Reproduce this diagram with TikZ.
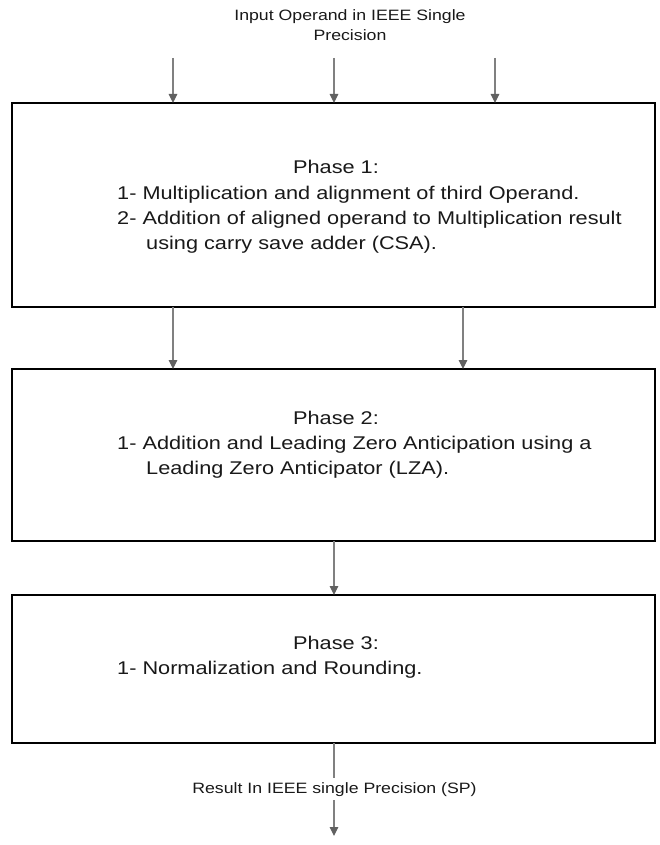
\documentclass[tikz,border=0pt]{standalone}
\usepackage{fontspec}
\usetikzlibrary{arrows.meta}
\newfontfamily\diagfont[FakeStretch=1.18]{Liberation Sans}
\newcommand{\bigtxt}{\diagfont\fontsize{18.4}{25}\selectfont}
\newcommand{\smalltxt}{\diagfont\fontsize{15}{20}\selectfont}
\begin{document}
\begin{tikzpicture}[x=1pt,y=-1pt,
  phasebox/.style={draw=black, line width=1.1pt, inner sep=0pt, outer sep=0pt, minimum width=643pt},
  bt/.style={font=\bigtxt, inner sep=0pt, text=black!90},
  st/.style={font=\smalltxt, inner sep=0pt, text=black!90},
  conn/.style={draw=black!50, line width=1.1pt},
  arr/.style={conn, -{Triangle[width=8.5pt,length=9pt,color=black!62]}}
]
\useasboundingbox[fill=white] (0,0) rectangle (660,845);

% top label
\node[st, anchor=base] (in1) at (350,21) {Input Operand in IEEE Single};
\node[st, anchor=base] (in2) at (350,41) {Precision};

% boxes
\node[phasebox, minimum height=204pt] (b1) at (333.5,205) {};
\node[phasebox, minimum height=172pt] (b2) at (333.5,455) {};
\node[phasebox, minimum height=148pt] (b3) at (333.5,669) {};

% box 1 text
\node[bt, anchor=base] (p1) at (336,174) {Phase 1:};
\node[bt, anchor=base west] (p1a) at (117,199) {1- Multiplication and alignment of third Operand.};
\node[bt, anchor=base west] (p1b) at (117,224) {2- Addition of aligned operand to Multiplication result};
\node[bt, anchor=base west] (p1c) at (146,249) {using carry save adder (CSA).};

% box 2 text
\node[bt, anchor=base] (p2) at (336,424) {Phase 2:};
\node[bt, anchor=base west] (p2a) at (117,449) {1- Addition and Leading Zero Anticipation using a};
\node[bt, anchor=base west] (p2b) at (146,474) {Leading Zero Anticipator (LZA).};

% box 3 text
\node[bt, anchor=base] (p3) at (336,649) {Phase 3:};
\node[bt, anchor=base west] (p3a) at (117,674) {1- Normalization and Rounding.};

% result label
\node[st, anchor=base, inner ysep=4pt] (res) at (334.5,793) {Result In IEEE single Precision (SP)};

% connector coordinates
\coordinate (t1) at (173,58);
\coordinate (t2) at (334,58);
\coordinate (t3) at (495,58);
\coordinate (xa) at (173,0);
\coordinate (xb) at (463,0);
\coordinate (xc) at (334,0);
\coordinate (fin) at (334,836);

% connectors
\draw[arr] (t1) -- (t1 |- b1.north);
\draw[arr] (t2) -- (t2 |- b1.north);
\draw[arr] (t3) -- (t3 |- b1.north);
\draw[arr] (xa |- b1.south) -- (xa |- b2.north);
\draw[arr] (xb |- b1.south) -- (xb |- b2.north);
\draw[arr] (xc |- b2.south) -- (xc |- b3.north);
\draw[conn] (xc |- b3.south) -- (xc |- res.north);
\draw[arr] (xc |- res.south) -- (fin);
\end{tikzpicture}
\end{document}
